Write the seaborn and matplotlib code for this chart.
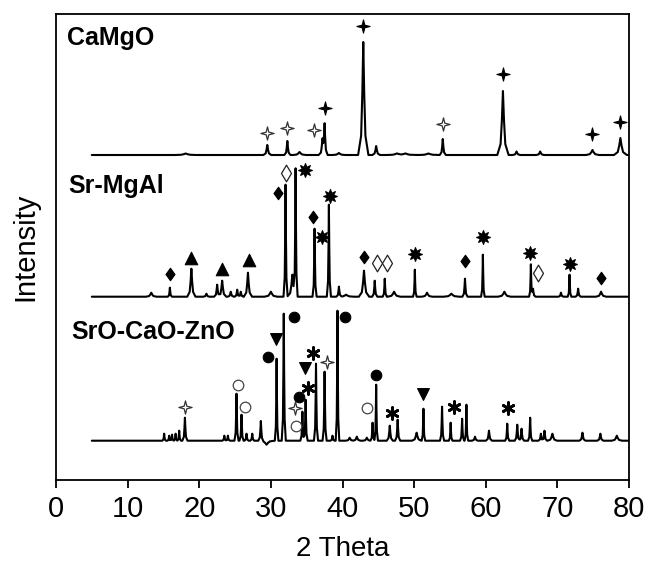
import numpy as np
import pandas as pd
import matplotlib
matplotlib.use("Agg")
import matplotlib.pyplot as plt
from matplotlib.path import Path
import seaborn as sns

# ---------------- data ----------------
samples = ["CaMgO", "Sr-MgAl", "SrO-CaO-ZnO"]
offsets = [325.0, 183.3, 39.3]          # baseline level of each trace

# peak positions (2 theta), heights above baseline, half widths
camgo_pos = [18.1, 29.5, 32.3, 34.0, 37.2, 37.5, 39.5, 42.9, 44.7, 47.6, 48.8,
             52.0, 54.0, 62.4, 64.3, 67.6, 74.9, 78.8]
camgo_h = [1.5, 10, 14, 3, 14, 30, 2, 113, 9, 1.5, 1.5, 1.5, 16, 64, 3.5, 3.5, 5, 17]
camgo_w = [0.4, 0.15, 0.12, 0.25, 0.15, 0.12, 0.25, 0.2, 0.15, 0.4, 0.4, 0.4,
           0.12, 0.22, 0.15, 0.15, 0.25, 0.25]

srmgal_pos = [13.3, 15.9, 18.9, 21.0, 22.5, 23.2, 24.4, 25.3, 25.8, 26.8, 30.0,
              32.05, 33.0, 33.45, 36.1, 38.1, 39.5, 40.5, 43.0, 44.5, 45.9, 47.2,
              50.1, 51.8, 55.2, 57.1, 59.6, 62.6, 66.3, 66.6, 70.5, 71.7, 72.9, 76.1]
srmgal_h = [4, 9, 28, 3, 12, 16, 5, 7, 5, 24, 5,
            112, 22, 126, 68, 92, 10, 2, 26, 16, 18, 5,
            27, 4, 3, 18, 42, 5, 32, 8, 4, 22, 8, 5]
srmgal_w = [0.2, 0.08, 0.16, 0.12, 0.12, 0.16, 0.12, 0.1, 0.1, 0.16, 0.25,
            0.08, 0.2, 0.08, 0.08, 0.08, 0.1, 0.3, 0.2, 0.1, 0.08, 0.25,
            0.07, 0.2, 0.3, 0.1, 0.07, 0.25, 0.07, 0.1, 0.1, 0.07, 0.1, 0.2]

szc_pos = [15.1, 15.8, 16.2, 16.7, 17.2, 18.0, 23.5, 24.0, 25.2, 25.9, 26.6, 27.4,
           28.6, 29.4, 30.8, 31.8, 34.4, 34.85, 36.3, 37.5, 38.6, 39.3, 41.0, 42.0,
           43.4, 44.2, 44.7, 46.6, 47.7, 50.35, 51.3, 53.9, 55.1, 56.7, 57.3, 58.5,
           60.45, 63.0, 64.4, 65.0, 66.2, 67.7, 68.2, 69.3, 73.5, 76.0, 78.3]
szc_h = [7, 5, 6, 7, 10, 23, 5, 5, 47, 26, 7, 7,
         20, -4, 82, 127, 29, 41, 77, 69, 5, 130, 3, 4,
         3, 18, 56, 15, 21, 8, 32, 34, 18, 22, 36, 4,
         10, 17, 16, 12, 23, 7, 10, 7, 8, 7, 5]
szc_w = [0.07, 0.07, 0.07, 0.07, 0.07, 0.1, 0.08, 0.08, 0.08, 0.08, 0.08, 0.08,
         0.1, 0.3, 0.07, 0.08, 0.08, 0.08, 0.08, 0.08, 0.08, 0.07, 0.15, 0.15,
         0.15, 0.08, 0.07, 0.12, 0.1, 0.18, 0.07, 0.08, 0.07, 0.08, 0.07, 0.12,
         0.12, 0.08, 0.1, 0.1, 0.08, 0.1, 0.1, 0.18, 0.12, 0.12, 0.2]

theta_start, theta_end = 5.0, 80.0

# phase markers (2 theta, intensity level)
star4_fill_x = [37.5, 42.9, 62.4, 74.9, 78.8]
star4_fill_y = [372.3, 454.0, 405.7, 346.0, 358.3]
star4_open_x = [29.5, 32.3, 36.0, 54.0, 18.0, 33.35, 37.8]
star4_open_y = [347.3, 351.7, 350.0, 356.0, 73.3, 71.7, 118.3]
diam_fill_x = [15.9, 31.0, 35.9, 43.0, 57.1, 76.1]
diam_fill_y = [205.7, 286.7, 262.7, 223.3, 219.0, 202.3]
diam_open_x = [32.05, 44.8, 46.2, 67.3]
diam_open_y = [307.3, 217.3, 217.3, 207.3]
tri_up_x = [18.9, 23.2, 26.9]
tri_up_y = [221.7, 210.7, 220.0]
sun_x = [34.8, 38.3, 37.2, 50.1, 59.6, 66.2, 71.7]
sun_y = [310.0, 284.0, 243.3, 225.7, 242.7, 226.7, 215.7]
circ_open_x = [25.4, 26.4, 33.5, 43.4]
circ_open_y = [95.0, 73.3, 54.0, 71.7]
circ_fill_x = [29.6, 33.2, 33.9, 40.4, 44.7]
circ_fill_y = [123.3, 162.7, 82.7, 162.7, 105.0]
tri_dn_x = [30.75, 34.75, 51.3]
tri_dn_y = [141.0, 111.7, 86.0]
aster_x = [35.2, 35.9, 46.95, 55.5, 63.1]
aster_y = [91.7, 126.7, 67.3, 73.3, 71.7]

xticks = [0, 10, 20, 30, 40, 50, 60, 70, 80]

# ---------------- build traces ----------------
prof_off = np.array([-3.6, -1.5, -0.65, 0.0, 0.65, 1.5, 3.6])
prof_rel = np.array([0.0, 0.17, 0.55, 1.0, 0.55, 0.17, 0.0])


def trace(pos, h, w, base):
    xs = [theta_start, theta_end]
    for p, ww in zip(pos, w):
        xs.extend(p + prof_off * ww)
    xs = np.unique(np.clip(xs, theta_start, theta_end))
    ys = np.zeros_like(xs)
    for p, hh, ww in zip(pos, h, w):
        ys += np.interp(xs, p + prof_off * ww, hh * prof_rel, left=0, right=0)
    return xs, ys + base


frames = []
for name, (pos, h, w), base in zip(
        samples,
        [(camgo_pos, camgo_h, camgo_w), (srmgal_pos, srmgal_h, srmgal_w),
         (szc_pos, szc_h, szc_w)],
        offsets):
    xs, ys = trace(pos, h, w, base)
    frames.append(pd.DataFrame({"theta": xs, "intensity": ys, "sample": name}))
df = pd.concat(frames, ignore_index=True)

# ---------------- style ----------------
sns.set_style("white")
plt.rcParams["font.family"] = ["Liberation Sans", "DejaVu Sans"]
plt.rcParams["text.color"] = "black"
plt.rcParams["axes.labelcolor"] = "black"
plt.rcParams["xtick.color"] = "black"
plt.rcParams["ytick.color"] = "black"

fig = plt.figure(figsize=(6.48, 5.68), dpi=100)
ax = fig.add_axes([56 / 648, 88 / 568, 573 / 648, 466 / 568])

sns.lineplot(data=df, x="theta", y="intensity", units="sample", estimator=None,
             sort=False, color="black", linewidth=1.5, ax=ax, legend=False)

# marker shapes
a = 0.2
star4 = Path([(0, 1), (a, a), (1, 0), (a, -a), (0, -1), (-a, -a), (-1, 0), (-a, a), (0, 1)],
             [Path.MOVETO] + [Path.LINETO] * 7 + [Path.CLOSEPOLY])
diam_f = Path([(0, 1), (0.72, 0), (0, -1), (-0.72, 0), (0, 1)],
              [Path.MOVETO] + [Path.LINETO] * 3 + [Path.CLOSEPOLY])
diam_o = Path([(0, 1), (0.6, 0), (0, -1), (-0.6, 0), (0, 1)],
              [Path.MOVETO] + [Path.LINETO] * 3 + [Path.CLOSEPOLY])

def mk(x, y, marker, ms, face, edge="black", lw=0.8):
    sns.scatterplot(x=x, y=y, marker=marker, s=ms ** 2, color=face,
                    edgecolor=edge, linewidth=lw, ax=ax, zorder=5, legend=False)

mk(star4_fill_x, star4_fill_y, star4, 9.5, "black")
mk(star4_open_x, star4_open_y, star4, 9.5, "white", edge="#333333", lw=0.9)
mk(diam_fill_x, diam_fill_y, diam_f, 9.0, "black")
mk(diam_open_x, diam_open_y, diam_o, 12.0, "white", edge="#222222", lw=0.9)
mk(tri_up_x, tri_up_y, "^", 9.0, "black")
mk(sun_x, sun_y, (8, 1, 0), 10.0, "black")
mk(circ_open_x, circ_open_y, "o", 7.6, "white", edge="#444444", lw=0.9)
mk(circ_fill_x, circ_fill_y, "o", 7.6, "black")
mk(tri_dn_x, tri_dn_y, "v", 8.5, "black")
sns.scatterplot(x=aster_x, y=aster_y, marker=(6, 2, 0), s=8.5 ** 2, color="black",
                linewidth=2.0, ax=ax, zorder=5, legend=False)

# sample labels
label_pos = [(1.5, 442), (1.7, 294), (2.1, 148)]
for name, (lx, ly) in zip(samples, label_pos):
    ax.text(lx, ly, name, fontsize=18, fontweight="bold", ha="left", va="center",
            color="black")

ax.set_xlim(0, 80)
ax.set_ylim(0, 466)
ax.set_xticks(xticks)
ax.set_xticklabels([str(t) for t in xticks])
ax.set_yticks([])
ax.tick_params(axis="x", direction="out", length=6, width=1.3, labelsize=21,
               pad=5, bottom=True, colors="black")
ax.set_xlabel("2 Theta", fontsize=20, labelpad=9, color="black")
ax.set_ylabel("Intensity", fontsize=21, labelpad=12, color="black")
for s in ax.spines.values():
    s.set_visible(True)
    s.set_linewidth(1.3)
    s.set_color("black")

fig.savefig("out.png", dpi=100)
